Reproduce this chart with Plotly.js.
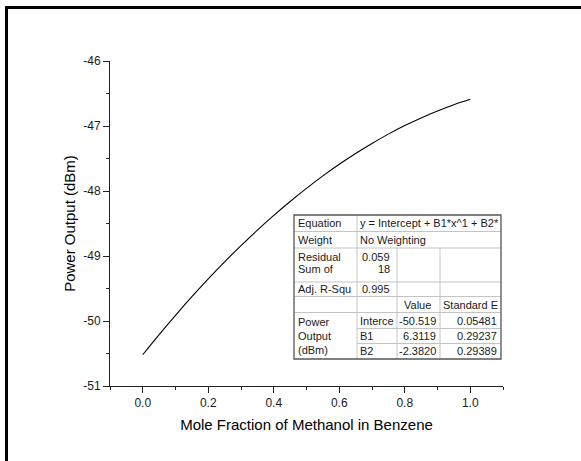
<!DOCTYPE html>
<html>
<head>
<meta charset="utf-8">
<script src="https://cdn.plot.ly/plotly-3.0.1.min.js"></script>
<style>
  html, body { margin: 0; padding: 0; background: #fff; }
  #chart { width: 581px; height: 461px; }
</style>
</head>
<body>
<div id="chart"></div>
<script>
// ---- Data ----
const moleFraction = [0, 0.05, 0.1, 0.15, 0.2, 0.25, 0.3, 0.35, 0.4, 0.45, 0.5,
                      0.55, 0.6, 0.65, 0.7, 0.75, 0.8, 0.85, 0.9, 0.95, 1.0];
const powerOutput = [-50.519, -50.209, -49.912, -49.626, -49.352, -49.090, -48.840,
                     -48.602, -48.375, -48.161, -47.959, -47.768, -47.589, -47.423,
                     -47.268, -47.125, -46.994, -46.875, -46.768, -46.672, -46.589];
const xTickVals = [0, 0.2, 0.4, 0.6, 0.8, 1.0];
const xTickText = ["0.0", "0.2", "0.4", "0.6", "0.8", "1.0"];
const yTickVals = [-51, -50, -49, -48, -47, -46];
const yTickText = ["-51", "-50", "-49", "-48", "-47", "-46"];

// Fit-results table text
const tblEquation = "y = Intercept + B1*x^1 + B2*";
const tblWeight = "No Weighting";
const tblResidual = ["0.059", "18"];
const tblAdjR2 = "0.995";
const tblParamNames = ["Interce", "B1", "B2"];
const tblParamValues = ["-50.519", "6.3119", "-2.3820"];
const tblParamErrors = ["0.05481", "0.29237", "0.29389"];

// ---- Layout helpers (pixel -> paper) ----
const L = 110, R = 503, T = 61, B = 386;
const px = x => (x - L) / (R - L);
const py = y => (B - y) / (B - T);

const shapes = [];
const annotations = [];
function line(x0, y0, x1, y1, color, width) {
  shapes.push({type: 'line', xref: 'paper', yref: 'paper',
    x0: px(x0), y0: py(y0), x1: px(x1), y1: py(y1),
    line: {color: color, width: width}});
}
const tfont = {family: 'Liberation Sans, Arial, sans-serif', size: 11, color: '#1a1a1a'};
function text(t, x, y, anchor) {
  annotations.push({xref: 'paper', yref: 'paper', x: px(x), y: py(y), text: t,
    showarrow: false, xanchor: anchor, yanchor: 'middle', font: tfont, borderpad: 0});
}

// Outer frame (left and top)
line(6.5, 7.5, 6.5, 461, '#000', 3);
line(5, 7.5, 581, 7.5, '#000', 3);

// Table geometry
const cx = [294, 357, 397, 440, 501];
const ry = [215, 231.5, 248, 282, 296.5, 312.5, 328.5, 343.5, 359];
const inner = '#c4c4c4';
for (let i = 1; i < ry.length - 1; i++) {
  if (i === 6 || i === 7) line(cx[1], ry[i], cx[4], ry[i], inner, 1);
  else line(cx[0], ry[i], cx[4], ry[i], inner, 1);
}
line(cx[1], ry[0], cx[1], ry[8], inner, 1);
line(cx[2], ry[2], cx[2], ry[8], inner, 1);
line(cx[3], ry[2], cx[3], ry[8], inner, 1);
shapes.push({type: 'rect', xref: 'paper', yref: 'paper',
  x0: px(cx[0]), x1: px(cx[4]), y0: py(ry[8]), y1: py(ry[0]),
  line: {color: '#555', width: 1.3}, fillcolor: 'rgba(0,0,0,0)'});

const mid = i => (ry[i] + ry[i + 1]) / 2;
text('Equation', cx[0] + 3, mid(0), 'left');
text(tblEquation, cx[1] + 2, mid(0), 'left');
text('Weight', cx[0] + 3, mid(1), 'left');
text(tblWeight, cx[1] + 2, mid(1), 'left');
text('Residual', cx[0] + 3, 257, 'left');
text('Sum of', cx[0] + 3, 269, 'left');
text(tblResidual[0], cx[2] - 6, 257, 'right');
text(tblResidual[1], cx[2] - 6, 269, 'right');
text('Adj. R-Squ', cx[0] + 3, mid(3), 'left');
text(tblAdjR2, cx[2] - 6, mid(3), 'right');
text('Value', (cx[2] + cx[3]) / 2 - 1, mid(4), 'center');
text('Standard E', cx[3] + 2, mid(4), 'left');
text('Power', cx[0] + 3, 322, 'left');
text('Output', cx[0] + 3, 336, 'left');
text('(dBm)', cx[0] + 3, 350, 'left');
for (let k = 0; k < 3; k++) {
  text(tblParamNames[k], cx[1] + 2, mid(5 + k), 'left');
  text(tblParamValues[k], cx[3] - 3, mid(5 + k), 'right');
  text(tblParamErrors[k], cx[4] - 3, mid(5 + k), 'right');
}

const axisFont = {family: 'Liberation Sans, Arial, sans-serif', size: 12, color: '#1a1a1a'};
const titleFont = {family: 'Liberation Sans, Arial, sans-serif', size: 15, color: '#000'};

const trace = {
  x: moleFraction, y: powerOutput, type: 'scatter', mode: 'lines',
  line: {color: '#000', width: 1.1, shape: 'spline'}, hoverinfo: 'skip'
};

const layout = {
  width: 581, height: 461,
  margin: {l: L, r: 581 - R, t: T, b: 461 - B, pad: 0},
  paper_bgcolor: '#fff', plot_bgcolor: '#fff',
  showlegend: false,
  xaxis: {
    range: [-0.1, 1.1], tickmode: 'array', tickvals: xTickVals, ticktext: xTickText,
    ticks: 'outside', ticklen: 6, tickwidth: 1, tickcolor: '#222',
    showline: true, linecolor: '#222', linewidth: 1, mirror: false,
    showgrid: false, zeroline: false, tickfont: axisFont,
    minor: {tickmode: 'linear', tick0: -0.1, dtick: 0.1, ticks: 'outside', ticklen: 3, tickcolor: '#222', showgrid: false},
    title: {text: 'Mole Fraction of Methanol in Benzene', font: titleFont, standoff: 10}
  },
  yaxis: {
    range: [-51, -46], tickmode: 'array', tickvals: yTickVals, ticktext: yTickText,
    ticks: 'outside', ticklen: 6, tickwidth: 1, tickcolor: '#222',
    showline: true, linecolor: '#222', linewidth: 1,
    showgrid: false, zeroline: false, tickfont: axisFont,
    minor: {tickmode: 'linear', tick0: -51, dtick: 0.5, ticks: 'outside', ticklen: 3, tickcolor: '#222', showgrid: false},
    title: {text: 'Power Output (dBm)', font: titleFont, standoff: 4}
  },
  shapes: shapes,
  annotations: annotations
};

Plotly.newPlot('chart', [trace], layout, {displayModeBar: false, staticPlot: true});
</script>
</body>
</html>
